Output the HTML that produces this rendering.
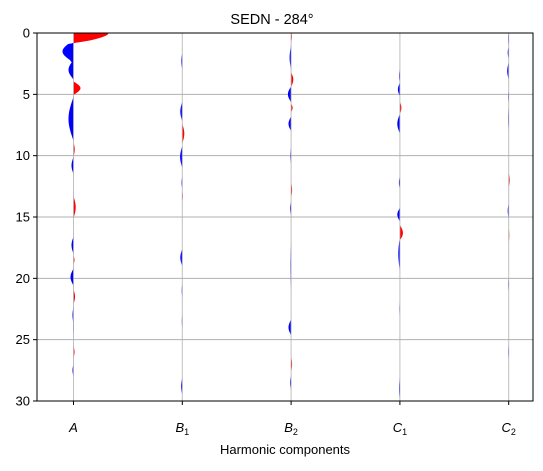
<!DOCTYPE html>
<html><head><meta charset="utf-8"><style>
body{margin:0;background:#fff;}
svg{font-family:"Liberation Sans","DejaVu Sans",sans-serif;}
</style></head><body>
<svg id="chart" width="543" height="466" viewBox="0 0 543 466" xmlns="http://www.w3.org/2000/svg">
<text x="272" y="24" font-size="14.5" text-anchor="middle">SEDN - 284°</text>
<g id="grid"></g>
<g id="marks"></g>
<g id="colgrid"></g>
<rect x="37" y="33" width="496" height="368" fill="none" stroke="#000" stroke-width="1"/>
<g id="axes"></g>
<text x="285" y="454" font-size="13" text-anchor="middle">Harmonic components</text>
</svg>
<script>
const categories = ["A","B1","B2","C1","C2"];
const yTicks = [0,5,10,15,20,25,30];
// features per column: depth centers, half-widths (depth units), amplitudes (+ red / - blue)
const centerA = [0,1.5,3.0,4.5,7.0,9.5,10.8,14.2,17.3,18.5,19.9,21.5,23,24,26,27.5];
const widthA  = [0.9,0.9,0.8,0.55,1.8,0.6,0.7,0.9,0.7,0.35,0.7,0.6,0.7,0.6,0.5,0.5];
const ampA    = [35,-11,-5,7,-5,1.2,-2,2.2,-2,1,-3,1.5,-1,-0.5,1,-1];
const centerB1 = [2.3,6.4,8.2,10.1,12.2,13.3,18.3,21,23.5,28.8];
const widthB1  = [0.7,0.8,0.8,0.9,0.5,0.4,0.7,0.6,0.6,0.7];
const ampB1    = [-1,-2,2,-2.2,-0.8,0.6,-2,-0.6,-0.5,-1.2];
const centerB2 = [0.3,2,3.8,5,6.1,7.4,10,12.8,14.3,19,24,27,28.5];
const widthB2  = [0.5,1,0.6,0.65,0.35,0.6,0.7,0.6,0.6,2,0.65,0.6,0.6];
const ampB2    = [0.8,-1.5,2.2,-3.2,1.5,-2.6,-0.8,1,-1,-0.7,-2.6,1,-1];
const centerC1 = [3.5,4.6,6.1,7.4,12.2,14.8,16.3,18,22.5,29];
const widthC1  = [0.6,0.55,0.5,0.8,0.5,0.55,0.65,1.4,0.6,1];
const ampC1    = [-0.8,-2,1.5,-2.6,-1,-2.6,3,-1.6,-0.5,-0.8];
const centerC2 = [0.5,1.6,3.1,5.2,7,12,14.5,16.5,20.5,26];
const widthC2  = [0.6,0.5,0.7,0.5,1,0.6,0.6,0.6,0.6,0.6];
const ampC2    = [-0.6,-1,-1.5,-0.6,-0.6,1,-1,0.6,-0.5,-0.5];
const centers=[centerA,centerB1,centerB2,centerC1,centerC2];
const widths=[widthA,widthB1,widthB2,widthC1,widthC2];
const amps=[ampA,ampB1,ampB2,ampC1,ampC2];

const NS="http://www.w3.org/2000/svg";
const X0=37,X1=533,Y0=33,Y1=401;
function yScale(d){return Y0+d/30*(Y1-Y0);}
function colX(i){return 73.5+i*108.8;}
const grid=document.getElementById('grid');
const marks=document.getElementById('marks');
const colgrid=document.getElementById('colgrid');
const axes=document.getElementById('axes');
function mk(tag,attrs,parent){const e=document.createElementNS(NS,tag);for(const k in attrs)e.setAttribute(k,attrs[k]);parent.appendChild(e);return e;}

yTicks.forEach(function(t){
  const y=yScale(t);
  if(t>0&&t<30){
    const g=mk('line',{x1:X0,x2:X1,y1:y,y2:y,stroke:'#b0b0b0','stroke-width':1},grid);
    
    
  }
  const tk=mk('line',{x1:X0-4,x2:X0,y1:y,y2:y,stroke:'#000'},axes);
  
  
  const lb=mk('text',{x:X0-7,y:y+4.5,'font-size':13,'text-anchor':'end'},axes);
  lb.textContent=t;
  
  
});

function profile(i,d){
  var v=0;var cc=centers[i],ww=widths[i],aa=amps[i];
  for(var k=0;k<cc.length;k++){var u=(d-cc[k])/ww[k];if(Math.abs(u)<1)v+=aa[k]*(1-u*u)*(1-0.3*u*u);}
  return v;
}

const labels=[["A",""],["B","1"],["B","2"],["C","1"],["C","2"]];
categories.forEach(function(cat,i){
  const x=colX(i);
  const tk=mk('line',{x1:x,x2:x,y1:Y1,y2:Y1+4,stroke:'#000'},axes);
  
  
  const t=mk('text',{x:x,y:432,'font-size':13,'text-anchor':'middle','font-style':'italic'},axes);
  
  
  const m=document.createElementNS(NS,'tspan');m.textContent=labels[i][0];t.appendChild(m);
  if(labels[i][1]){const s=document.createElementNS(NS,'tspan');s.setAttribute('font-size','9');s.setAttribute('dy','3');s.setAttribute('font-style','normal');s.textContent=labels[i][1];t.appendChild(s);}

  var pp='M'+x+','+Y0, pn='M'+x+','+Y0;
  for(var n=0;n<=600;n++){
    var d=n*0.05;var v=profile(i,d);var y=yScale(d).toFixed(2);
    pp+=' L'+(x+Math.max(v,0)).toFixed(2)+','+y;
    pn+=' L'+(x+Math.min(v,0)).toFixed(2)+','+y;
  }
  pp+=' L'+x+','+Y1+' Z';pn+=' L'+x+','+Y1+' Z';
  const r=mk('path',{d:pp,fill:'#ff0000'},marks);
  
  
  const b=mk('path',{d:pn,fill:'#0000ff'},marks);
  
  

  const g=mk('line',{x1:x,x2:x,y1:Y0,y2:Y1,stroke:'#b0b0b0','stroke-width':1,'stroke-opacity':0.8},colgrid);
  
  
});
</script>
</body></html>
